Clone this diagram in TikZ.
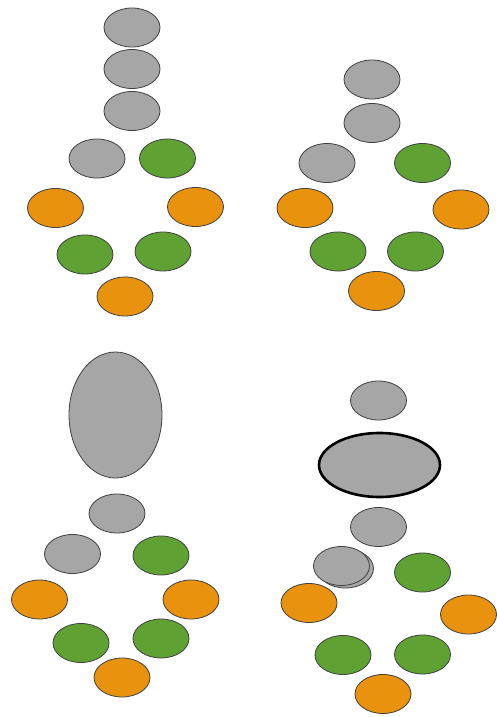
\documentclass[tikz,border=0pt]{standalone}
\usetikzlibrary{shapes.geometric}
\definecolor{dotgray}{HTML}{A6A6A6}
\definecolor{dotgreen}{HTML}{5FA233}
\definecolor{dotorange}{HTML}{E8920E}
\begin{document}
\begin{tikzpicture}[x=1pt,y=-1pt,
  dot/.style={ellipse,draw=black!75,line width=.8pt,inner sep=0pt,minimum width=56pt,minimum height=39pt},
  gr/.style={dot,fill=dotgray},
  gn/.style={dot,fill=dotgreen},
  og/.style={dot,fill=dotorange}]
\useasboundingbox (0,0) rectangle (496,717);
% top left
\node[gr] (a1) at (132,27.5) {};
\node[gr] (a2) at (132,69) {};
\node[gr] (a3) at (132,111) {};
\node[gr] (a4) at (97,158.5) {};
\node[gn] (a5) at (167.5,158.5) {};
\node[og] (a6) at (55.5,208) {};
\node[og] (a7) at (195.5,207) {};
\node[gn] (a8) at (85,254.5) {};
\node[gn] (a9) at (163,251.5) {};
\node[og] (a10) at (125,296.5) {};
% top right
\node[gr] (b1) at (372,79.5) {};
\node[gr] (b2) at (372,123) {};
\node[gr] (b3) at (327,163) {};
\node[gn] (b4) at (422.5,163) {};
\node[og] (b5) at (305,208) {};
\node[og] (b6) at (461,209.5) {};
\node[gn] (b7) at (338,251.5) {};
\node[gn] (b8) at (415.5,251.5) {};
\node[og] (b9) at (376.5,291) {};
% bottom left
\node[gr,minimum width=93pt,minimum height=126pt] (c1) at (115.5,415) {};
\node[gr] (c2) at (117,513.5) {};
\node[gr] (c3) at (72.5,554) {};
\node[gn] (c4) at (161,555.5) {};
\node[og] (c5) at (39.5,599.5) {};
\node[og] (c6) at (191,599.5) {};
\node[gn] (c7) at (81,643) {};
\node[gn] (c8) at (161,638.5) {};
\node[og] (c9) at (122,677.5) {};
% bottom right
\node[gr] (d1) at (378.5,400.5) {};
\node[gr,draw=black,line width=2.6pt,minimum width=121pt,minimum height=64pt] (d2) at (379.5,465) {};
\node[gr] (d3) at (378.5,527) {};
\node[gr] (d4b) at (345.5,568.5) {};
\node[gr] (d4) at (341.5,566) {};
\node[gn] (d5) at (422.5,572.5) {};
\node[og] (d6) at (309,603) {};
\node[og] (d7) at (468.5,614.5) {};
\node[gn] (d8) at (343,655) {};
\node[gn] (d9) at (422.5,654.5) {};
\node[og] (d10) at (383,694) {};
\end{tikzpicture}
\end{document}
